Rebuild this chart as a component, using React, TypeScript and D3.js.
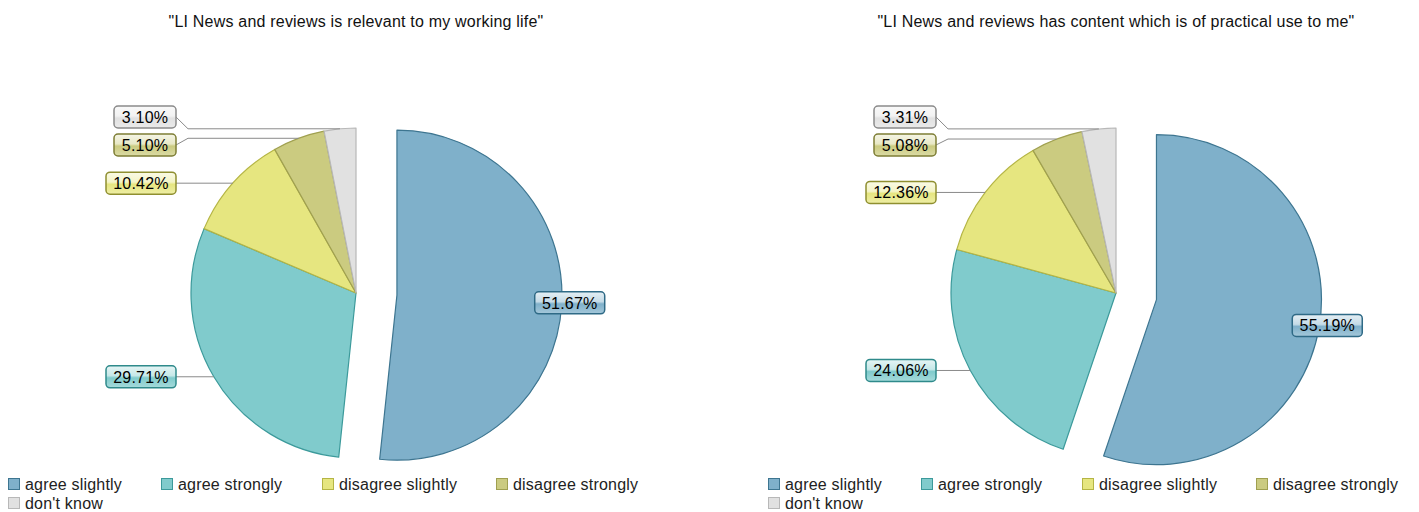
import React from "react";
import * as d3 from "d3";

const categories = ["agree slightly", "agree strongly", "disagree slightly", "disagree strongly", "don't know"];
const fills = ["#7fb0ca", "#80cbcc", "#e6e680", "#cbcb80", "#e1e1e1"];
const strokes = ["#3d7590", "#3c9a9b", "#b5b545", "#a0a050", "#b8b8b8"];
const labelBorders = ["#2f6a86", "#2f8a8b", "#8f8f30", "#7d7d35", "#8a8a8a"];

const title1 = "\"LI News and reviews is relevant to my working life\"";
const title2 = "\"LI News and reviews has content which is of practical use to me\"";
const values1 = [51.67, 29.71, 10.42, 5.1, 3.1];
const values2 = [55.19, 24.06, 12.36, 5.08, 3.31];
const labels1 = ["51.67%", "29.71%", "10.42%", "5.10%", "3.10%"];
const labels2 = ["55.19%", "24.06%", "12.36%", "5.08%", "3.31%"];

const FONT = "'Liberation Sans', Arial, sans-serif";
const FS = 16;
const LS = 0.2;
const R = 165;
const EXPLODE = 41;

type PieProps = {
  ox: number;
  cx: number;
  cy: number;
  title: string;
  titleX: number;
  values: number[];
  labels: string[];
  boxYs: number[];
  id: string;
};

function boxWidth(s: string) {
  return s.length * 8 + 22;
}

function PieChart({ ox, cx, cy, title, titleX, values, labels, boxYs, id }: PieProps) {
  const pie = d3.pie<number>().sort(null).value((d) => d).startAngle(0).endAngle(2 * Math.PI);
  const arcs = pie(values);
  const arc = d3.arc<d3.PieArcDatum<number>>().innerRadius(0).outerRadius(R);
  const pt = (a: number, r: number) => [Math.sin(a) * r, -Math.cos(a) * r];
  const legendX = [0, 153, 314, 488];
  return (
    <g>
      <text x={titleX} y={27} textAnchor="middle" fontFamily={FONT} fontSize={FS} letterSpacing={LS} fill="#111">
        {title}
      </text>
      <g transform={`translate(${cx},${cy})`}>
        {arcs.map((a, i) => {
          const mid = (a.startAngle + a.endAngle) / 2;
          const off = i === 0 ? pt(mid, EXPLODE) : [0, 0];
          return (
            <path
              key={i}
              d={arc(a) as string}
              transform={`translate(${off[0]},${off[1]})`}
              fill={fills[i]}
              stroke={strokes[i]}
              strokeWidth={1.2}
              strokeLinejoin="round"
            />
          );
        })}
        {arcs.map((a, i) => {
          const mid = (a.startAngle + a.endAngle) / 2;
          const w = boxWidth(labels[i]);
          const h = 22;
          if (i === 0) {
            const off = pt(mid, EXPLODE);
            const p = pt(mid, R);
            const bx = p[0] + off[0] + 8;
            const by = p[1] + off[1] - 1;
            return (
              <g key={"l" + i}>
                <rect x={bx - w / 2} y={by - h / 2} width={w} height={h} rx={4} fill={`url(#${id}g${i})`} stroke={labelBorders[i]} strokeWidth={1.5} />
                <text x={bx} y={by + 6} textAnchor="middle" fontFamily={FONT} fontSize={FS} letterSpacing={LS} fill="#000">
                  {labels[i]}
                </text>
              </g>
            );
          }
          const p = pt(mid, R);
          const right = -180;
          const ay = p[1];
          let by = boxYs[i] - cy;
          if (Math.abs(ay - by) < 3) by = ay;
          const elbowX = right + 12;
          const line =
            by === ay
              ? `M${right},${by}L${p[0]},${ay}`
              : `M${right},${by}L${elbowX},${ay}L${p[0]},${ay}`;
          return (
            <g key={"l" + i}>
              <path d={line} fill="none" stroke="#8a8a8a" strokeWidth={1} />
              <rect x={right - w} y={by - h / 2} width={w} height={h} rx={4} fill={`url(#${id}g${i})`} stroke={labelBorders[i]} strokeWidth={1.5} />
              <text x={right - w / 2} y={by + 6} textAnchor="middle" fontFamily={FONT} fontSize={FS} letterSpacing={LS} fill="#000">
                {labels[i]}
              </text>
            </g>
          );
        })}
      </g>
      <g transform={`translate(${ox + 8},478)`}>
        {categories.map((c, i) => {
          const row = i < 4 ? 0 : 1;
          const x = i < 4 ? legendX[i] : 0;
          const y = row * 19;
          return (
            <g key={c} transform={`translate(${x},${y})`}>
              <rect x={0.5} y={0.5} width={11} height={11} fill={fills[i]} stroke={strokes[i]} strokeWidth={1} />
              <text x={17} y={11.5} fontFamily={FONT} fontSize={FS} letterSpacing={LS} fill="#222">
                {c}
              </text>
            </g>
          );
        })}
      </g>
    </g>
  );
}

export default function App() {
  return (
    <svg width={1419} height={512} style={{ position: "absolute", left: 0, top: 0, background: "#fff" }}>
      <defs>
        {["a", "b"].map((id) =>
          fills.map((f, i) => {
            const c = d3.color(f)!;
            return (
              <linearGradient key={id + i} id={`${id}g${i}`} x1="0" y1="0" x2="0" y2="1">
                <stop offset="0%" stopColor={d3.interpolateRgb(f, "#ffffff")(0.8)} />
                <stop offset="45%" stopColor={d3.interpolateRgb(f, "#ffffff")(0.55)} />
                <stop offset="55%" stopColor={c.formatHex()} />
                <stop offset="100%" stopColor={d3.interpolateRgb(f, "#ffffff")(0.3)} />
              </linearGradient>
            );
          })
        )}
      </defs>
      <PieChart ox={0} cx={356} cy={293} title={title1} titleX={356} values={values1} labels={labels1} boxYs={[0, 376, 182, 145, 117]} id="a" />
      <PieChart ox={760} cx={1116} cy={293} title={title2} titleX={1116} values={values2} labels={labels2} boxYs={[0, 369, 190, 145, 117]} id="b" />
    </svg>
  );
}
